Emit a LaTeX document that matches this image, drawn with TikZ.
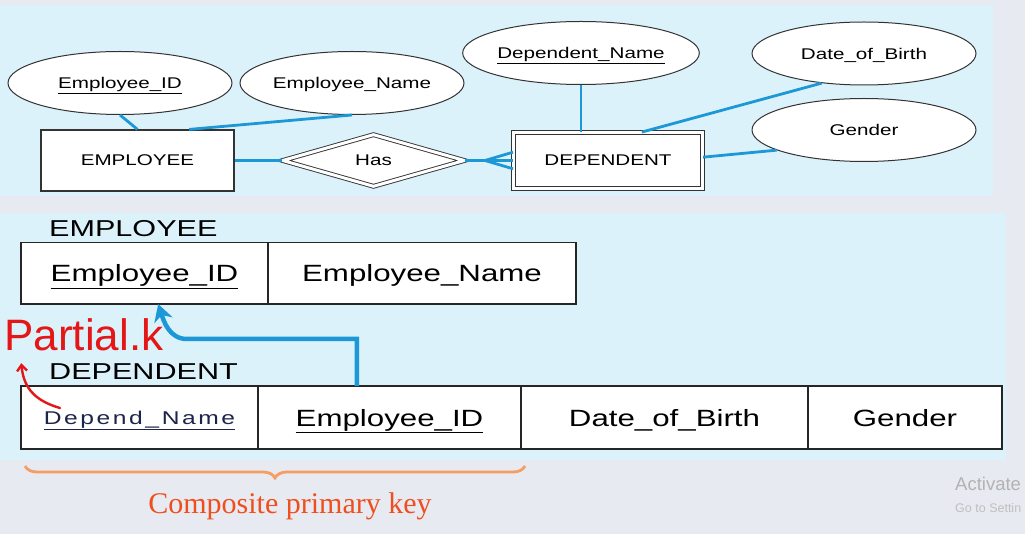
\documentclass[tikz,border=0pt]{standalone}
\usepackage{fontspec}
\setmainfont[FakeStretch=1.33]{Liberation Sans}
\newfontfamily\plainsans{Liberation Sans}
\newfontfamily\keyserif{Liberation Serif}
\newfontfamily\spacedsans[FakeStretch=1.33,LetterSpace=14]{Liberation Sans}
\usetikzlibrary{arrows.meta,positioning,shapes.geometric,decorations.pathreplacing}
\definecolor{erblue}{RGB}{28,152,214}
\definecolor{panelblue}{RGB}{220,242,251}
\definecolor{screengray}{RGB}{232,234,242}
\definecolor{penred}{RGB}{228,22,22}
\definecolor{braceorange}{RGB}{246,158,98}
\definecolor{keyorange}{RGB}{240,78,28}
\definecolor{navytext}{RGB}{28,36,72}

\begin{document}
\begin{tikzpicture}[x=1pt,y=-1pt,>=Stealth,
    attr/.style={ellipse,draw=black!80,fill=white,line width=1pt,minimum width=224pt,
      minimum height=63pt,inner sep=0pt,text depth=0pt,font=\fontsize{15.5}{18}\selectfont},
    entity/.style={rectangle,draw=black!80,fill=white,line width=1.2pt,minimum width=193pt,
      minimum height=61pt,inner sep=0pt,text depth=0pt,font=\fontsize{15.5}{18}\selectfont},
    weakentity/.style={entity,line width=0.9pt,double=white,double distance=3pt,
      minimum width=189pt,minimum height=56pt},
    relation/.style={diamond,aspect=3.4,draw=black!80,fill=white,line width=0.9pt,double=white,
      double distance=3pt,minimum width=182pt,minimum height=52pt,inner sep=0pt,text depth=0pt,
      font=\fontsize{15.5}{18}\selectfont},
    link/.style={erblue,line width=2.8pt},
    cell/.style={rectangle,draw=black!85,fill=white,line width=1.6pt,minimum height=62pt,
      inner sep=0pt,outer sep=0pt,text depth=0pt,font=\fontsize{23.5}{28}\selectfont},
    tabletitle/.style={anchor=west,inner sep=0pt,text depth=0pt,font=\fontsize{23}{28}\selectfont},
    fk/.style={erblue,line width=4.5pt,-{Stealth[length=17pt,width=19pt]}},
    pen/.style={penred,line width=2.4pt,line cap=round,-{Straight Barb[length=6pt,width=10pt]}},
    keybrace/.style={braceorange,line width=2.8pt,decorate,decoration={brace,mirror,amplitude=12pt}}]
  \useasboundingbox (0,0) rectangle (1025,534);

  % screen and slide panels
  \fill[screengray] (0,0) rectangle (1025,534);
  \fill[panelblue] (0,5) rectangle (993,196);
  \fill[panelblue] (0,213) rectangle (1006,460);

  % ER diagram
  \node[attr] (eid) at (120,83) {\underline{Employee\_ID}};
  \node[attr] (ename) at (352,83) {Employee\_Name};
  \node[attr] (dname) at (581,53) {\underline{Dependent\_Name}};
  \node[attr] (dob) at (864,53.5) {Date\_of\_Birth};
  \node[attr] (gen) at (864,130) {Gender};
  \node[entity] (emp) at (137.5,160.5) {EMPLOYEE};
  \node[relation] (has) at (373.5,160.5) {Has};
  \node[weakentity] (dep) at (608,160.5) {DEPENDENT};
  \coordinate (fork) at (485,160.5);

  \draw[link] (eid.south) -- (emp.north);
  \draw[link] (ename.south) -- (emp.31);
  \draw[link] (dname.south) -- (dname.south |- dep.north);
  \draw[link] (dob.215) -- (dep.40);
  \draw[link] (gen.193) -- (dep.2);
  \draw[link] (emp) -- (has);
  \draw[link] (has.east) -- (fork);
  \draw[link] (fork) -- (dep.175);
  \draw[link] (fork) -- (dep.west);
  \draw[link] (fork) -- (dep.185);

  % relational tables
  \node[tabletitle] (emptitle) at (49,228.5) {EMPLOYEE};
  \node[cell,minimum width=247pt,minimum height=61.5pt] (eid2) at (144.5,273.3) {\underline{Employee\_ID}};
  \node[cell,minimum width=308pt,minimum height=61.5pt,right=0pt of eid2] (ename2) {Employee\_Name};

  \node[tabletitle] (deptitle) at (49,372) {DEPENDENT};
  \node[cell,minimum width=237pt,minimum height=63pt,text=navytext,font=\spacedsans\fontsize{18.5}{22}\selectfont]
    (dname2) at (139.5,417.5) {\underline{Depend\_Name}};
  \node[cell,minimum width=263pt,minimum height=63pt,right=0pt of dname2] (demp) {\underline{Employee\_ID}};
  \node[cell,minimum width=287pt,minimum height=63pt,right=0pt of demp] (ddob) {Date\_of\_Birth};
  \node[cell,minimum width=194pt,minimum height=63pt,right=0pt of ddob] (dgen) {Gender};

  \draw[fk] (demp.136) -- ++(0,-47) -- ++(-170,0) to[out=180,in=-72] (eid2.294);

  % handwritten note
  \node[text=penred,inner sep=0pt,text depth=0pt,font=\plainsans\fontsize{44}{44}\selectfont]
    (pk) at (84,335) {Partial.k};
  \coordinate (pktail) at (60,408);
  \draw[pen] (pktail) .. controls +(-28,-8) and +(2,22) .. ([xshift=17pt,yshift=-12pt]pk.south west);

  % composite key brace
  \draw[keybrace] ([xshift=4pt,yshift=-17pt]dname2.south west) -- ([xshift=4pt,yshift=-17pt]demp.south east);
  \node[text=keyorange,inner sep=0pt,text depth=0pt,font=\keyserif\fontsize{30}{34}\selectfont]
    (cpk) at (290,503) {Composite primary key};

  % watermark
  \node[anchor=west,inner sep=0pt,text=black!30,font=\plainsans\fontsize{18.5}{22}\selectfont]
    (act) at (955,484) {Activate};
  \node[anchor=west,inner sep=0pt,text=black!25,font=\plainsans\fontsize{12.5}{15}\selectfont]
    (goto) at (955,508) {Go to Settin};
\end{tikzpicture}
\end{document}
